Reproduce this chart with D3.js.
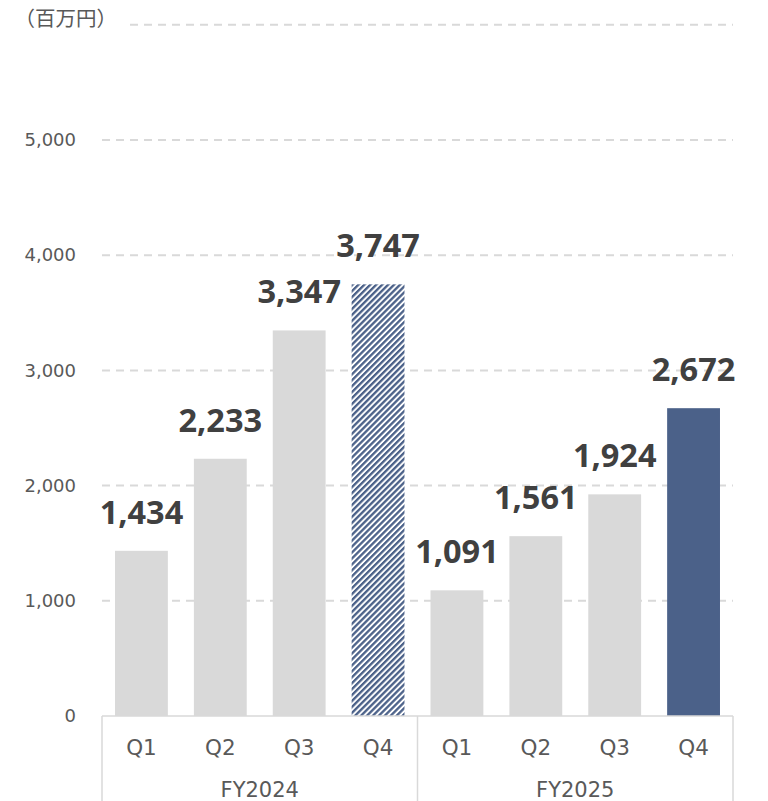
<!DOCTYPE html>
<html><head><meta charset="utf-8">
<script src="https://cdn.jsdelivr.net/npm/d3@7"></script>
<style>body{margin:0;background:#fff}svg{display:block}</style>
</head><body>
<svg id="chart" width="768" height="801"></svg>
<script>
const years = ["FY2024", "FY2025"];
const quarters = ["Q1", "Q2", "Q3", "Q4"];
const fy2024 = [1434, 2233, 3347, 3747];
const fy2025 = [1091, 1561, 1924, 2672];
const yTicks = [0, 1000, 2000, 3000, 4000, 5000];
const unitLabel = "（百万円）";

(function () {
const rows = [];
years.forEach((yr, i) => {
  const vals = i === 0 ? fy2024 : fy2025;
  quarters.forEach((q, j) => rows.push({key: yr + "-" + q, year: yr, q: q, v: vals[j], idx: i * 4 + j}));
});

const svg = d3.select("#chart");
const pLeft = 102, pRight = 733, pTop = 24.8, pBottom = 716;
const x = d3.scaleBand().domain(rows.map(d => d.key)).range([pLeft, pRight]).paddingInner(0.33).paddingOuter(0.165);
const xOuter = d3.scaleBand().domain(rows.map(d => d.key)).range([pLeft, pRight]);
const xYear = d3.scaleBand().domain(years).range([pLeft, pRight]);
const y = d3.scaleLinear().domain([0, 6000]).range([pBottom, pTop]);

const defs = svg.append("defs");
const pat = defs.append("pattern").attr("id", "hatch").attr("patternUnits", "userSpaceOnUse")
  .attr("width", 4.2).attr("height", 4.2).attr("patternTransform", "rotate(45)");
pat.append("rect").attr("width", 4.2).attr("height", 4.2).attr("fill", "#fff");
pat.append("rect").attr("width", 2.3).attr("height", 4.2).attr("fill", "#4b6189");

// gridlines
const grid = svg.append("g");
yTicks.filter(t => t > 0).concat([6000]).forEach(t => {
  grid.append("line").attr("x1", t === 6000 ? 130 : pLeft).attr("x2", pRight)
    .attr("y1", y(t)).attr("y2", y(t))
    .attr("stroke", "#d9d9d9").attr("stroke-width", 2).attr("stroke-dasharray", "8,6");
});

// y axis labels
const yAxis = d3.axisLeft(y).tickValues(yTicks).tickFormat(d3.format(",")).tickSize(0).tickPadding(0);
const yg = svg.append("g").attr("transform", "translate(76,0)").call(yAxis);
yg.select(".domain").remove();
yg.selectAll("text").attr("font-family", "DejaVu Sans").attr("font-size", 18).attr("fill", "#595959");

svg.append("text").attr("x", 117).attr("y", 26).attr("text-anchor", "end")
  .attr("font-family", "Noto Sans CJK JP").attr("font-size", 20.5).attr("fill", "#595959").text(unitLabel);

// bars
svg.append("g").selectAll("rect").data(rows).join("rect")
  .attr("x", d => x(d.key)).attr("width", x.bandwidth())
  .attr("y", d => y(d.v)).attr("height", d => y(0) - y(d.v))
  .attr("fill", d => d.idx === 3 ? "url(#hatch)" : d.idx === 7 ? "#4b6189" : "#d9d9d9");

// value labels
svg.append("g").selectAll("text").data(rows).join("text")
  .attr("x", d => x(d.key) + x.bandwidth() / 2).attr("y", d => y(d.v) - 27)
  .attr("text-anchor", "middle").attr("font-family", "Noto Sans").attr("font-weight", 700)
  .attr("font-size", 32.5).attr("fill", "#404040").text(d => d3.format(",")(d.v));

// x axis
const ax = svg.append("g");
ax.append("line").attr("x1", pLeft).attr("x2", pRight).attr("y1", pBottom).attr("y2", pBottom).attr("stroke", "#d9d9d9").attr("stroke-width", 1.5);
[pLeft, xYear("FY2025"), pRight].forEach(px => {
  ax.append("line").attr("x1", px).attr("x2", px).attr("y1", pBottom).attr("y2", 801).attr("stroke", "#d9d9d9").attr("stroke-width", 1.5);
});
ax.selectAll("text.q").data(rows).join("text").attr("class", "q")
  .attr("x", d => xOuter(d.key) + xOuter.bandwidth() / 2).attr("y", 755)
  .attr("text-anchor", "middle").attr("font-family", "DejaVu Sans").attr("font-size", 21.5).attr("fill", "#595959")
  .text(d => d.q);
ax.selectAll("text.yr").data(years).join("text").attr("class", "yr")
  .attr("x", d => xYear(d) + xYear.bandwidth() / 2).attr("y", 797)
  .attr("text-anchor", "middle").attr("font-family", "DejaVu Sans").attr("font-size", 21).attr("fill", "#595959")
  .text(d => d);
})();
</script>
</body></html>
